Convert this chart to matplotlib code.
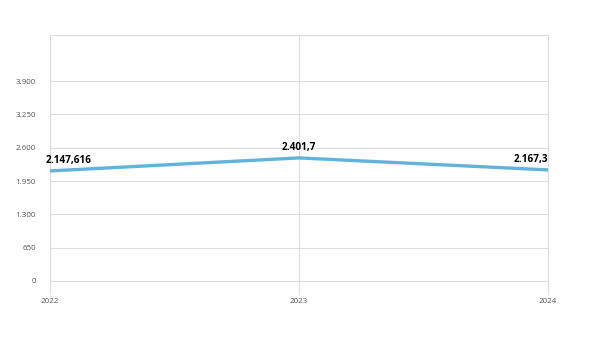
import matplotlib.pyplot as plt

# data
years = ['2022', '2023', '2024']
values = [2147.616, 2401.7, 2167.3]
labels = ['2.147,616', '2.401,7', '2.167,3']
yticks = [0, 650, 1300, 1950, 2600, 3250, 3900]
ytick_labels = ['0', '650', '1.300', '1.950', '2.600', '3.250', '3.900']

plt.rcParams['font.family'] = ['Open Sans', 'DejaVu Sans']

fig = plt.figure(figsize=(6, 3.39), dpi=100)
ax = fig.add_axes([0.0833, 0.1711, 0.83, 0.7257])

x = list(range(len(years)))
ax.plot(x, values, color='#62b3dc', lw=2.4, solid_capstyle='butt', zorder=3)

ax.set_xlim(0, 2)
ax.set_ylim(0, 4800)
ax.set_yticks(yticks)
ax.set_yticklabels(ytick_labels)
ax.set_xticks(x)
ax.set_xticklabels(years)

ax.grid(True, color='#dddddd', lw=0.8)
for s in ax.spines.values():
    s.set_color('#dddddd')
    s.set_linewidth(0.8)
ax.tick_params(axis='y', length=0, pad=10, labelsize=5.8, labelcolor='#555555')
ax.tick_params(axis='x', length=9, width=0.8, color='#dddddd', pad=3,
               labelsize=5.8, labelcolor='#555555')

# data labels
offs = [(-3, 'left'), (0, 'center'), (0, 'right')]
for i, (v, t) in enumerate(zip(values, labels)):
    dx, ha = offs[i]
    ax.annotate(t, (x[i], v), xytext=(dx, 3.5), textcoords='offset points',
                ha=ha, va='bottom', fontsize=7.2, fontweight='bold',
                color='#000000', annotation_clip=False)

fig.savefig('out.png', dpi=100)
